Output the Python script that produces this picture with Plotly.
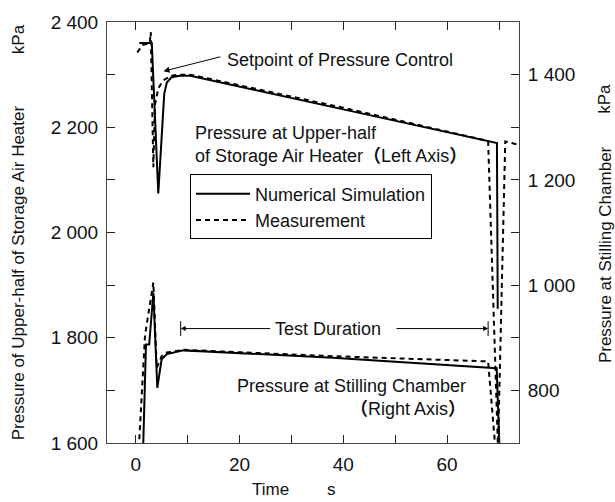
import plotly.graph_objects as go

# ---------------- data ----------------
t_sim_upper = [0.7, 3.1, 4.35, 5.5, 6.0, 6.9, 8.5, 10.5, 40.0, 69.6, 69.75]
p_sim_upper = [2360, 2360, 2074, 2264, 2285, 2295, 2298, 2298, 2234, 2170, 1855]

t_meas_upper = [0.3, 1.3, 2.7, 2.9, 3.4, 3.7, 4.35, 5.3, 6.9, 8.5, 10.5, 40.0, 67.9, 69.8, 71.2, 74.0]
p_meas_upper = [2342, 2356, 2360, 2381, 2124, 2242, 2274, 2289, 2298, 2300, 2300, 2237, 2174, 1590, 2173, 2166]

t_sim_lower = [1.46, 1.98, 2.6, 3.4, 4.16, 5.0, 6.0, 9.2, 38.0, 69.55, 70.1]
p_sim_lower = [700, 887, 887, 986, 805, 859, 869, 876, 862, 842, 690]

t_meas_lower = [0.6, 1.8, 3.4, 4.05, 5.0, 6.0, 9.2, 38.0, 67.9, 69.3]
p_meas_lower = [690, 905, 1005, 843, 865, 872, 877, 865, 855, 690]

x_tickvals = [0, 10, 20, 30, 40, 50, 60, 70]
x_ticktext = ["0", "", "20", "", "40", "", "60", ""]
yl_tickvals = [1600, 1700, 1800, 1900, 2000, 2100, 2200, 2300, 2400]
yl_ticktext = ["1 600", "", "1 800", "", "2 000", "", "2 200", "", "2 400"]
yr_tickvals = [700, 800, 900, 1000, 1100, 1200, 1300, 1400, 1500]
yr_ticktext = ["", "800", "", "1 000", "", "1 200", "", "1 400", ""]

test_start, test_end, test_level = 8.67, 67.9, 917.4
setpoint_t, setpoint_p = 5.36, 2306.5

# ---------------- layout geometry ----------------
W, H = 615, 502
ML, MR, MT, MB = 107, 96, 15, 59
PW, PH = W - ML - MR, H - MT - MB


def px(x):
    return (x - ML) / PW


def py(y):
    return 1 - (y - MT) / PH


FONT = "Liberation Sans, Arial, Noto Sans CJK SC, sans-serif"
DASH = "5px,4px"

fig = go.Figure()
fig.add_trace(go.Scatter(x=t_sim_upper, y=p_sim_upper, mode="lines",
                         line=dict(color="black", width=2),
                         name="Numerical Simulation", legendgroup="sim"))
fig.add_trace(go.Scatter(x=t_meas_upper, y=p_meas_upper, mode="lines",
                         line=dict(color="black", width=2, dash=DASH),
                         name="Measurement", legendgroup="meas"))
fig.add_trace(go.Scatter(x=t_sim_lower, y=p_sim_lower, mode="lines", yaxis="y2",
                         line=dict(color="black", width=2),
                         name="Numerical Simulation", legendgroup="sim", showlegend=False))
fig.add_trace(go.Scatter(x=t_meas_lower, y=p_meas_lower, mode="lines", yaxis="y2",
                         line=dict(color="black", width=2, dash=DASH),
                         name="Measurement", legendgroup="meas", showlegend=False))

axis_common = dict(showline=True, linecolor="#444", linewidth=1, ticks="inside",
                   ticklen=8, tickcolor="#222", tickwidth=1, showgrid=False,
                   zeroline=False, tickfont=dict(family=FONT, size=19, color="#111"))

fig.update_layout(
    width=W, height=H,
    margin=dict(l=ML, r=MR, t=MT, b=MB, pad=0),
    paper_bgcolor="white", plot_bgcolor="white",
    font=dict(family=FONT, size=18, color="#111"),
    xaxis=dict(range=[-5.53, 73.85], tickmode="array", tickvals=x_tickvals,
               ticktext=x_ticktext, mirror="ticks", ticklabelstandoff=4, **axis_common),
    yaxis=dict(range=[1600, 2400], tickmode="array", tickvals=yl_tickvals,
               ticktext=yl_ticktext, mirror=True, ticklabelstandoff=4, **axis_common),
    yaxis2=dict(range=[700, 1500], tickmode="array", tickvals=yr_tickvals,
                ticktext=yr_ticktext, overlaying="y", side="right",
                ticklabelstandoff=4, **axis_common),
    legend=dict(x=px(190), y=py(170), xanchor="left", yanchor="top",
                bordercolor="black", borderwidth=1, bgcolor="white",
                font=dict(family=FONT, size=18, color="#111"),
                itemwidth=54, tracegroupgap=0),
    showlegend=True,
)

ann = []
# axis titles
ann.append(dict(text="Pressure of Upper-half of Storage Air Heater", x=px(18.5), y=py(270),
                textangle=-90, font=dict(size=17)))
ann.append(dict(text="kPa", x=px(18.5), y=py(33), textangle=-90, font=dict(size=17)))
ann.append(dict(text="Pressure at Stilling Chamber", x=px(605), y=py(252),
                textangle=-90, font=dict(size=17)))
ann.append(dict(text="kPa", x=px(605), y=py(93), textangle=-90, font=dict(size=17)))
ann.append(dict(text="Time", x=px(270), y=py(490), font=dict(size=17)))
ann.append(dict(text="s", x=px(331), y=py(490), font=dict(size=17)))
for a in ann:
    a.update(xref="paper", yref="paper", showarrow=False, xanchor="center", yanchor="middle")

texts = [
    dict(text="Setpoint of Pressure Control", x=px(225), y=py(54), xanchor="left"),
    dict(text="Pressure at Upper-half<br>of Storage Air Heater<b>（</b>Left Axis<b>）</b>",
         x=px(193), y=py(140), xanchor="left", align="left"),
    dict(text="Pressure at Stilling Chamber<br><b>（</b>Right Axis<b>）</b>",
         x=px(468), y=py(397), xanchor="right", align="right"),
]
for a in texts:
    a.update(xref="paper", yref="paper", showarrow=False, yanchor="middle")
    ann.append(a)

# setpoint arrow
ann.append(dict(text="", x=setpoint_t, y=setpoint_p, xref="x", yref="y",
                ax=16.6, ay=2334.6, axref="x", ayref="y", showarrow=True,
                arrowhead=2, arrowsize=1.2, arrowwidth=1, arrowcolor="black"))
# test duration
ann.append(dict(text="Test Duration", x=37.1, y=test_level, xref="x", yref="y2",
                showarrow=False, xanchor="center", yanchor="middle"))
ann.append(dict(text="", x=test_start, y=test_level, xref="x", yref="y2",
                ax=26.2, ay=test_level, axref="x", ayref="y2", showarrow=True,
                arrowhead=2, arrowsize=1, arrowwidth=1, arrowcolor="black"))
ann.append(dict(text="", x=test_end, y=test_level, xref="x", yref="y2",
                ax=49.96, ay=test_level, axref="x", ayref="y2", showarrow=True,
                arrowhead=2, arrowsize=1, arrowwidth=1, arrowcolor="black"))
fig.update_layout(annotations=ann)

for tx in (test_start, test_end):
    fig.add_shape(type="line", x0=tx, x1=tx, y0=test_level - 14, y1=test_level + 14,
                  xref="x", yref="y2", line=dict(color="black", width=1))

fig.write_html("out.html")
